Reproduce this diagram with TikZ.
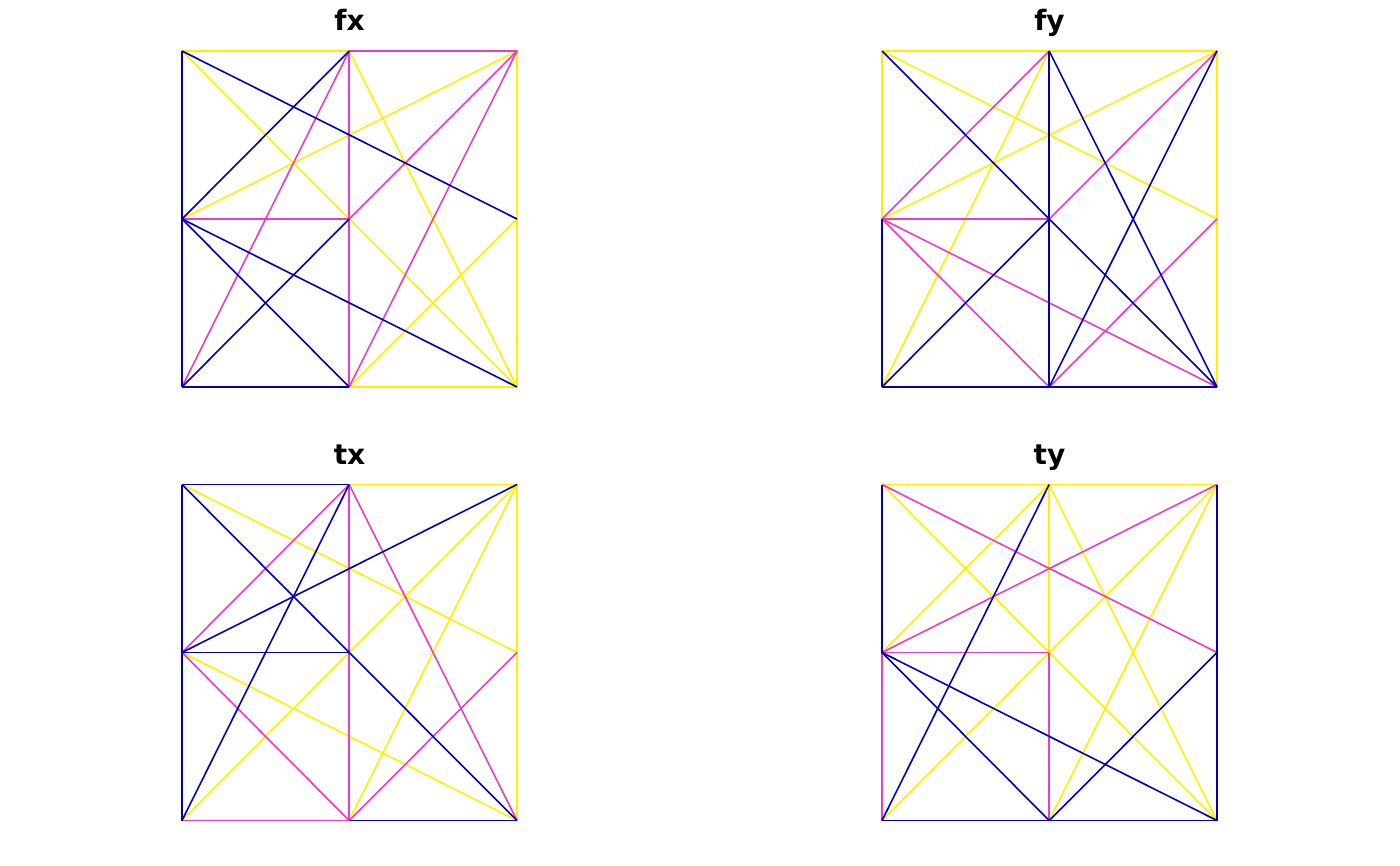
\documentclass[tikz,border=0pt]{standalone}
\usepackage{fontspec}
\newfontfamily\titlefont{DejaVu Sans}
\definecolor{cBlue}{RGB}{0,0,178}
\definecolor{cMag}{RGB}{230,62,196}
\definecolor{cYel}{RGB}{255,240,0}
\newcommand\mkgrid[3]{%
  \coordinate (#1TL) at (#2,#3);
  \coordinate (#1TM) at (#2+167.2,#3);
  \coordinate (#1TR) at (#2+335,#3);
  \coordinate (#1CL) at (#2,#3+168);
  \coordinate (#1CM) at (#2+167.2,#3+168);
  \coordinate (#1CR) at (#2+335,#3+168);
  \coordinate (#1BL) at (#2,#3+336);
  \coordinate (#1BM) at (#2+167.2,#3+336);
  \coordinate (#1BR) at (#2+335,#3+336);}
\newcommand\segs[3]{\foreach \a/\b in {#3} {\draw[#2] (#1\a) -- (#1\b);}}
\begin{document}
\begin{tikzpicture}[x=1pt,y=-1pt,
  ye/.style={draw=cYel,line width=1.6pt},
  ma/.style={draw=cMag,line width=1.6pt},
  bl/.style={draw=cBlue,line width=1.6pt},
  ttl/.style={font=\titlefont\bfseries\fontsize{28}{28}\selectfont,anchor=base,inner sep=0pt}]
\useasboundingbox[fill=white] (0,0) rectangle (1400,866);
% grids
\mkgrid{fx}{182}{51}
\mkgrid{fy}{882}{51}
\mkgrid{tx}{182}{484.5}
\mkgrid{ty}{882}{484.5}
% titles
\node[ttl] (tfx) at (349.5,31) {fx};
\node[ttl] (tfy) at (1049.5,31) {fy};
\node[ttl] (ttx) at (349.5,464) {tx};
\node[ttl] (tty) at (1049.5,464) {ty};
% fx
\segs{fx}{ye}{TL/TM, TR/CR, CR/BR, BM/BR, TL/CM, CM/BR, TM/BR, TR/CL, CR/BM}
\segs{fx}{ma}{TM/TR, TM/CM, CM/BM, CL/CM, TM/BL, TR/CM, TR/BM}
\segs{fx}{bl}{TL/CL, CL/BL, BL/BM, TL/CR, TM/CL, CL/BR, CL/BM, CM/BL}
% fy
\segs{fy}{ye}{TL/TM, TM/TR, TL/CL, TR/CR, CR/BR, TL/CR, TM/BL, TR/CL}
\segs{fy}{ma}{CL/CM, TM/CL, TR/CM, CL/BR, CL/BM, CR/BM}
\segs{fy}{bl}{CL/BL, TM/CM, CM/BM, BL/BM, BM/BR, TL/CM, CM/BR, TM/BR, TR/BM, CM/BL}
% tx
\segs{tx}{ye}{TM/TR, TR/CR, CR/BR, TL/CR, TR/CM, CM/BL, TR/BM, CL/BR}
\segs{tx}{ma}{TM/CM, CM/BM, BL/BM, TM/CL, TM/BR, CL/BM, CR/BM}
\segs{tx}{bl}{TL/TM, TL/CL, CL/BL, CL/CM, BM/BR, TL/CM, CM/BR, TM/BL, TR/CL}
% ty
\segs{ty}{ye}{TL/TM, TM/TR, TM/CM, TL/CM, CM/BR, TM/CL, TM/BR, TR/CM, CM/BL, TR/BM}
\segs{ty}{ma}{CL/BL, CM/BM, CL/CM, TL/CR, TR/CL}
\segs{ty}{bl}{TL/CL, TR/CR, CR/BR, BL/BM, BM/BR, TM/BL, CL/BR, CL/BM, CR/BM}
\end{tikzpicture}
\end{document}
